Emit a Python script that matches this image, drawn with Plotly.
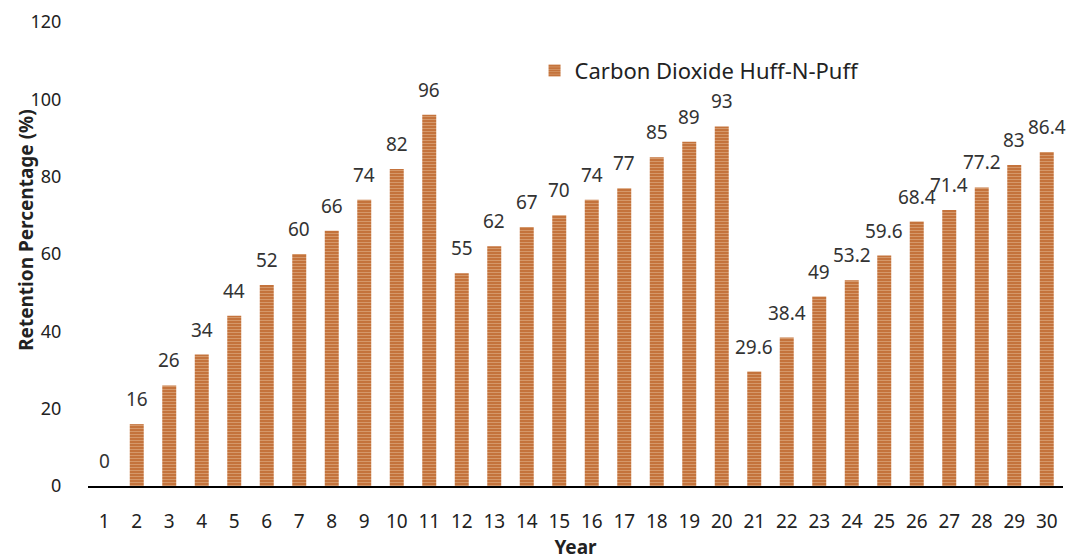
import plotly.graph_objects as go

years = list(range(1, 31))
retention = [0, 16, 26, 34, 44, 52, 60, 66, 74, 82, 96, 55, 62, 67, 70, 74, 77, 85, 89, 93,
             29.6, 38.4, 49, 53.2, 59.6, 68.4, 71.4, 77.2, 83, 86.4]
labels = [f"{v:g}" for v in retention]

FONT = "Noto Sans"
BAR = "#C4733C"
STRIPE = "#E6BE98"

fig = go.Figure()
fig.add_trace(go.Bar(
    x=years, y=retention, name="Carbon Dioxide Huff-N-Puff",
    marker=dict(color=BAR,
                pattern=dict(shape="-", size=3, solidity=0.34,
                             fgcolor=STRIPE, bgcolor=BAR, fillmode="overlay"),
                line=dict(width=0)),
))

for x, y, t in zip(years, retention, labels):
    fig.add_annotation(x=x, y=y, text=t, showarrow=False, yanchor="middle",
                       yshift=25, font=dict(size=19, family=FONT, color="#333333"))

# y-axis title placed as annotation for precise positioning
fig.add_annotation(xref="paper", yref="paper", x=0, y=0.552, xanchor="center", yanchor="middle",
                   xshift=-62, textangle=-90, showarrow=False,
                   text="<b>Retention Percentage (%)</b>",
                   font=dict(size=19, family=FONT, color="#222222"))

fig.update_layout(
    width=1069, height=560,
    margin=dict(l=88, r=6, t=22, b=74, autoexpand=False),
    paper_bgcolor="white", plot_bgcolor="white",
    bargap=0.57,
    showlegend=True,
    legend=dict(x=0.458, y=0.895, xanchor="left", yanchor="middle",
                font=dict(size=22, family=FONT, color="#222222"),
                bgcolor="rgba(0,0,0,0)"),
    font=dict(family=FONT, color="#333333"),
)
fig.update_xaxes(
    type="linear", range=[0.5, 30.5], tickmode="array", tickvals=years,
    ticktext=[str(y) for y in years],
    automargin=False,
    showline=True, linecolor="black", linewidth=2,
    showgrid=False, zeroline=False, ticks="outside", ticklen=17, tickcolor="rgba(0,0,0,0)",
    tickfont=dict(size=19, family=FONT, color="#222222"),
    title=dict(text="<b>Year</b>", font=dict(size=19, family=FONT, color="#222222"), standoff=16),
)
fig.update_yaxes(
    automargin=False,
    range=[0, 120], dtick=20, showline=False, showgrid=False, zeroline=False,
    tickfont=dict(size=18, family=FONT, color="#222222"),
    ticks="outside", ticklen=22, tickcolor="rgba(0,0,0,0)",
)

fig.write_html("out.html", config={"displayModeBar": False},
               post_script="document.body.style.margin='0';document.body.style.overflow='hidden';")
